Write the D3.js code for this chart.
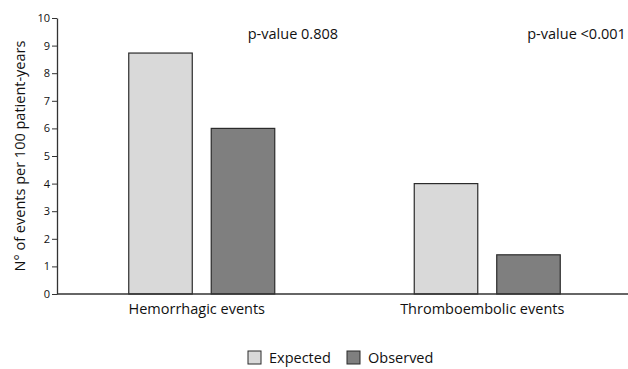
<!DOCTYPE html>
<html>
<head>
<meta charset="utf-8">
<script src="https://cdn.jsdelivr.net/npm/d3@7"></script>
<style>
  body { margin: 0; background: #fff; }
  svg text { font-family: "Open Sans", "Noto Sans", sans-serif; fill: #111; }
</style>
</head>
<body>
<div id="chart"></div>
<script>
// data
const categories = ['Hemorrhagic events', 'Thromboembolic events'];
const seriesNames = ['Expected', 'Observed'];
const expected = [8.73, 4.0];
const observed = [6.0, 1.42];
const pValues = ['p-value 0.808', 'p-value <0.001'];
const yTicks = [0, 1, 2, 3, 4, 5, 6, 7, 8, 9, 10];

const colors = { Expected: '#d9d9d9', Observed: '#7f7f7f' };

const svgwidth = 628;
const svgheight = 369;
const margin = { left: 57, right: 0, top: 18, bottom: 75 };
const height = svgheight - margin.top - margin.bottom;

const svg = d3.select('#chart').append('svg')
  .attr('width', svgwidth)
  .attr('height', svgheight);

const rows = categories.map((c, i) => ({
  cat: c,
  p: pValues[i],
  values: [
    { key: 'Expected', value: expected[i] },
    { key: 'Observed', value: observed[i] },
  ],
}));

const x0 = d3.scaleBand()
  .domain(categories)
  .range([margin.left, svgwidth - margin.right])
  .padding(0);

const groupW = 146;
const x1 = d3.scaleBand()
  .domain(seriesNames)
  .range([-groupW / 2, groupW / 2])
  .paddingInner(0.23)
  .paddingOuter(0);

const y = d3.scaleLinear()
  .domain([0, 10])
  .range([margin.top + height, margin.top]);

// bars
const groups = svg.selectAll('.grp')
  .data(rows)
  .enter()
  .append('g')
  .attr('class', 'grp')
  .attr('transform', d => `translate(${x0(d.cat) + x0.bandwidth() / 2 + 2},0)`);

groups.selectAll('rect')
  .data(d => d.values)
  .enter()
  .append('rect')
  .attr('x', d => x1(d.key))
  .attr('y', d => y(d.value))
  .attr('width', x1.bandwidth())
  .attr('height', d => y(0) - y(d.value))
  .attr('fill', d => colors[d.key])
  .attr('stroke', '#2b2b2b')
  .attr('stroke-width', 1.2);

// p-values
groups.append('text')
  .attr('x', (d, i) => (i === 0 ? 46 : 40))
  .attr('y', 39)
  .attr('font-size', '14.5px')
  .text(d => d.p);

// y axis
const yAxis = svg.append('g')
  .attr('transform', `translate(${margin.left},0)`)
  .call(d3.axisLeft(y)
    .tickValues(yTicks)
    .tickSize(5)
    .tickSizeOuter(0)
    .tickPadding(2));
yAxis.select('.domain').attr('stroke', '#333').attr('stroke-width', 1.3);
yAxis.selectAll('.tick line').attr('stroke', '#333');
yAxis.selectAll('.tick text').attr('font-size', '11px').attr('fill', '#222');

// x axis line
svg.append('line')
  .attr('x1', margin.left)
  .attr('x2', svgwidth)
  .attr('y1', y(0))
  .attr('y2', y(0))
  .attr('stroke', '#333')
  .attr('stroke-width', 1.3);

// category labels
svg.selectAll('.cat')
  .data(categories)
  .enter()
  .append('text')
  .attr('class', 'cat')
  .attr('x', d => x0(d) + x0.bandwidth() / 2 - 3)
  .attr('y', 314)
  .attr('text-anchor', 'middle')
  .attr('font-size', '14.5px')
  .text(d => d);

// y title
svg.append('text')
  .attr('transform', 'translate(25,156) rotate(-90)')
  .attr('text-anchor', 'middle')
  .attr('font-size', '14.5px')
  .text('N° of events per 100 patient-years');

// legend
const legend = svg.append('g').attr('transform', 'translate(248,351)');
const lItem = legend.selectAll('g')
  .data(seriesNames)
  .enter()
  .append('g')
  .attr('transform', (d, i) => `translate(${i * 99},0)`);
lItem.append('rect')
  .attr('width', 13)
  .attr('height', 13)
  .attr('fill', d => colors[d])
  .attr('stroke', '#2b2b2b');
lItem.append('text')
  .attr('x', 21)
  .attr('y', 11.5)
  .attr('font-size', '14.5px')
  .text(d => d);
</script>
</body>
</html>
